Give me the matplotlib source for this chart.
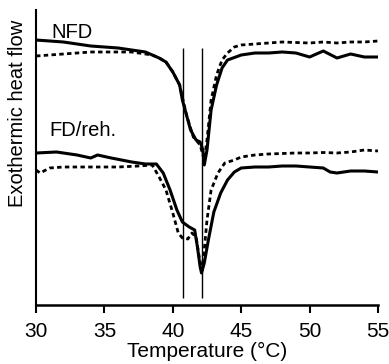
import matplotlib
matplotlib.use("Agg")
import matplotlib.pyplot as plt

plt.rcParams['font.family'] = ['Liberation Sans', 'DejaVu Sans']

# NFD (native), solid = sample, dashed = reference
nfd_t = [30, 31, 32, 33, 34, 35, 36, 37, 38, 38.5, 39, 39.5, 40, 40.5, 40.7, 41, 41.3,
         41.7, 42.0, 42.2, 42.3, 42.5, 42.8, 43.2, 43.6, 44, 45, 46, 47, 48, 49, 50,
         51, 52, 53, 54, 55]
nfd_solid = [265, 264, 263, 261, 259, 258, 257, 255, 253, 250, 247, 243, 233, 220, 205,
             190, 175, 165, 163, 155, 140, 155, 195, 220, 237, 245, 250, 252, 252, 253,
             252, 248, 254, 247, 251, 248, 248]

nfd_dash_t = [30, 31, 32, 33, 34, 35, 36, 37, 38, 38.5, 39, 39.5, 40, 40.5, 41, 41.5, 42,
              42.3, 42.5, 42.8, 43.2, 43.6, 44, 44.5, 45, 46, 47, 48, 49, 50, 51, 52, 53,
              54, 55]
nfd_dash = [249, 250, 251, 252, 253, 253, 253, 253, 251, 250, 247, 243, 233, 220, 190,
            168, 160, 145, 165, 205, 230, 245, 252, 258, 260, 261, 262, 263, 262.5, 262,
            263, 262, 263, 263, 264]

# FD/reh. (freeze-dried, rehydrated)
fd_t = [30, 31.5, 33, 34, 34.5, 35.5, 37, 38, 38.8, 39.3, 39.8, 40.3, 40.7, 41.2, 41.6,
        41.8, 42.0, 42.1, 42.3, 42.6, 43.0, 43.5, 44, 44.5, 45, 46, 47, 48, 49, 50, 51,
        51.5, 52, 53, 54, 55]
fd_solid = [152, 153, 150, 147, 150, 147, 143, 141, 141, 132, 115, 95, 83, 78, 75, 58,
            38, 32, 42, 65, 93, 112, 125, 133, 137, 138, 138, 139, 139, 138, 137, 133,
            132, 134, 134, 133]

fd_dash_t = [30, 30.3, 31, 32, 34, 36, 37.5, 38.5, 39, 39.5, 40, 40.4, 40.7, 41.1, 41.4,
             41.7, 42.0, 42.15, 42.3, 42.5, 42.8, 43.3, 43.8, 44.5, 45, 46, 47, 48, 49,
             50, 51, 52, 53, 54, 55]
fd_dash = [135, 132, 137, 138, 138, 138, 139, 140, 128, 115, 92, 72, 67, 66, 72, 68, 42,
           35, 55, 85, 115, 132, 142, 145, 148, 150, 151, 151.5, 152, 152, 152.5, 152,
           153, 155, 154]

peaks = [40.72, 42.16]
xticks = [30, 35, 40, 45, 50, 55]

fig = plt.figure(figsize=(3.89, 3.64), dpi=100)
ax = fig.add_axes([36 / 389, 59 / 364, 342 / 389, 295 / 364])

dash = (0, (1.6, 1.2))
ax.plot(nfd_t, nfd_solid, color='black', lw=2.2, solid_joinstyle='round')
ax.plot(nfd_dash_t, nfd_dash, color='black', lw=2.0, linestyle=dash)
ax.plot(fd_t, fd_solid, color='black', lw=2.2, solid_joinstyle='round')
ax.plot(fd_dash_t, fd_dash, color='black', lw=2.0, linestyle=dash)

for p in peaks:
    ax.vlines(p, 7, 257, color='black', lw=1.0)

ax.text(31.1, 273, 'NFD', fontsize=14.5, va='center', ha='left')
ax.text(31.0, 174, 'FD/reh.', fontsize=14.5, va='center', ha='left')

ax.set_xlim(30, 55)
ax.set_ylim(0, 295)
ax.set_xticks(xticks)
ax.set_yticks([])
ax.tick_params(axis='x', direction='out', length=6, width=1.5, labelsize=15, pad=6)
for s in ['top', 'right']:
    ax.spines[s].set_visible(False)
ax.spines['left'].set_linewidth(1.5)
ax.spines['bottom'].set_linewidth(1.8)

ax.set_xlabel('Temperature (°C)', fontsize=15, labelpad=1)
fig.text(18 / 389, 1 - 113 / 364, 'Exothermic heat flow', rotation=90,
         fontsize=14.5, ha='center', va='center')

fig.savefig('out.png', dpi=100)
